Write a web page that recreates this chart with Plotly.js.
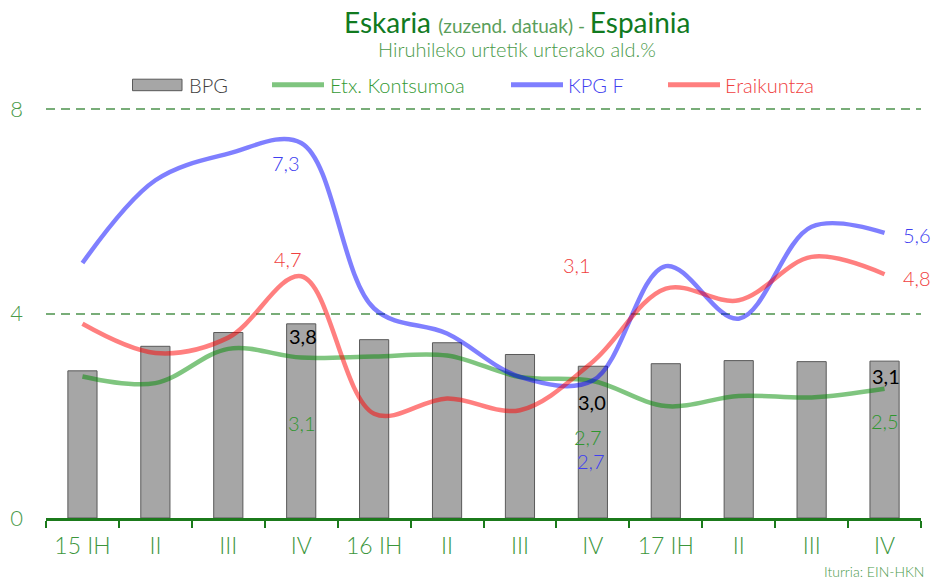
<!DOCTYPE html>
<html>
<head>
<meta charset="utf-8">
<script src="https://cdn.plot.ly/plotly-3.0.1.min.js"></script>
<style>
html,body{margin:0;padding:0;background:#fff;}
#chart{width:933px;height:581px;}
</style>
</head>
<body>
<div id="chart"></div>
<script>
// ---- Data ----
const categories = ["2015-I","2015-II","2015-III","2015-IV","2016-I","2016-II","2016-III","2016-IV","2017-I","2017-II","2017-III","2017-IV"];
const tickLabels = ["15 IH","II","III","IV","16 IH","II","III","IV","17 IH","II","III","IV"];
const bpg        = [2.88, 3.36, 3.63, 3.80, 3.49, 3.43, 3.20, 2.97, 3.02, 3.08, 3.06, 3.07];
const kontsumoa  = [2.77, 2.64, 3.31, 3.14, 3.16, 3.18, 2.76, 2.68, 2.19, 2.39, 2.36, 2.53];
const kpgF       = [4.99, 6.61, 7.13, 7.34, 4.10, 3.61, 2.76, 2.69, 4.93, 3.90, 5.70, 5.58];
const eraikuntza = [3.80, 3.23, 3.53, 4.73, 2.04, 2.34, 2.11, 3.06, 4.49, 4.26, 5.11, 4.77];
const seriesNames = ["BPG","Etx. Kontsumoa","KPG F","Eraikuntza"];
const labelIdx = [3, 7, 11]; // labelled quarters (IV)

// ---- Geometry helpers (layout only) ----
const L = 46, R = 12, T = 98.8, B = 63.3, W = 933, H = 581;
const pw = W - L - R, ph = H - T - B;
const px = x => (x - L) / pw;
const py = y => (H - B - y) / ph;

const FONT = "Lato, 'Noto Sans', sans-serif";
const WT = 300;
const cGreenTxt = "#339933", cBlueTxt = "#4040f0", cRedTxt = "#f04040";

const traces = [
  {type:"bar", x:categories, y:bpg, name:seriesNames[0], width:0.4,
   marker:{color:"#a6a6a6", line:{color:"#595959", width:1}}, showlegend:false, hoverinfo:"y"},
  {type:"scatter", mode:"lines", x:categories, y:kontsumoa, name:seriesNames[1],
   line:{color:"rgba(0,140,0,0.5)", width:4.5, shape:"spline", smoothing:1}, showlegend:false},
  {type:"scatter", mode:"lines", x:categories, y:kpgF, name:seriesNames[2],
   line:{color:"rgba(0,0,255,0.5)", width:4.5, shape:"spline", smoothing:1}, showlegend:false},
  {type:"scatter", mode:"lines", x:categories, y:eraikuntza, name:seriesNames[3],
   line:{color:"rgba(255,0,0,0.5)", width:4.5, shape:"spline", smoothing:1}, showlegend:false}
];

const fmt = v => v.toFixed(1).replace(".", ",");
const ann = [];
// data labels: [series array, color, weight, [xshift,yshift] per labelled point]
const labelSpecs = [
  [kpgF, cBlueTxt, WT, [[-15,-20],[-2,-80],[32,-2]]],
  [eraikuntza, cRedTxt, WT, [[-13,17],[-16,97],[32,-4]]],
  [bpg, "#000000", 400, [[2,-12],[-1,-36],[1,-15]]],
  [kontsumoa, "#2f962f", WT, [[1,-65],[-5,-56],[0,-32]]]
];
labelSpecs.forEach(([arr, col, wt, shifts]) => {
  labelIdx.forEach((i, k) => {
    ann.push({x:categories[i], y:arr[i], xref:"x", yref:"y", text:fmt(arr[i]),
      showarrow:false, xshift:shifts[k][0], yshift:shifts[k][1],
      font:{family:FONT, size:20, color:col, weight:wt}});
  });
});

// Title
ann.push({xref:"paper", yref:"paper", x:px(517), y:py(22), xanchor:"center", yanchor:"middle", showarrow:false,
  text:"Eskaria <span style='font-size:19px;color:#5a9e5a'>(zuzend. datuak)</span><span style='font-size:19px;color:#5a9e5a'> - </span>Espainia",
  font:{family:FONT, size:28, color:"#117a1f", weight:400}});
ann.push({xref:"paper", yref:"paper", x:px(517), y:py(49), xanchor:"center", yanchor:"middle", showarrow:false,
  text:"Hiruhileko urtetik urterako ald.%", font:{family:FONT, size:20, color:"#4a9a4a", weight:WT}});
// Source
ann.push({xref:"paper", yref:"paper", x:px(926), y:py(571), xanchor:"right", yanchor:"middle", showarrow:false,
  text:"Iturria: EIN-HKN", font:{family:FONT, size:14, color:"#4a9a4a", weight:WT}});

// Legend (manual)
const legY = 84.5;
const shapes = [];
shapes.push({type:"rect", xref:"paper", yref:"paper", x0:px(132.5), x1:px(182), y0:py(79), y1:py(90.5),
  fillcolor:"#a6a6a6", line:{color:"#595959", width:1}});
const legLines = [[272,324,"rgba(0,140,0,0.5)"],[511,563,"rgba(0,0,255,0.5)"],[668,720,"rgba(255,0,0,0.5)"]];
legLines.forEach(([a,b,c]) => shapes.push({type:"line", xref:"paper", yref:"paper", x0:px(a), x1:px(b), y0:py(legY), y1:py(legY),
  line:{color:c, width:5}}));
const legTexts = [[187, seriesNames[0], "#404040"],[328, seriesNames[1], cGreenTxt],[566, seriesNames[2], cBlueTxt],[723, seriesNames[3], cRedTxt]];
legTexts.forEach(([x,t,c]) => ann.push({xref:"paper", yref:"paper", x:px(x), y:py(legY), xanchor:"left", yanchor:"middle",
  showarrow:false, text:t, font:{family:FONT, size:20, color:c, weight:WT}}));

const layout = {
  width:W, height:H,
  margin:{l:L, r:R, t:T, b:B, pad:0},
  paper_bgcolor:"#ffffff", plot_bgcolor:"#ffffff",
  showlegend:false,
  font:{family:FONT},
  xaxis:{type:"category", tickmode:"array", tickvals:categories, ticktext:tickLabels,
    range:[-0.5, 11.5], tickson:"boundaries", ticks:"outside", ticklen:7, tickwidth:2, tickcolor:"#1b7a1b",
    showline:true, linecolor:"#1b7a1b", linewidth:2.5, showgrid:false, zeroline:false,
    tickfont:{family:FONT, size:23, color:"#3c963c", weight:WT}, ticklabelstandoff:6},
  yaxis:{range:[0,8.2], tickvals:[0,4,8], ticktext:["0","4","8"], showgrid:true, gridcolor:"#78ad78",
    griddash:"9px,6px", gridwidth:2, zeroline:false, showline:false, ticks:"",
    tickfont:{family:FONT, size:22, color:"#4a9a4a", weight:WT}, ticklabelstandoff:22},
  annotations:ann, shapes:shapes, bargap:0.6
};

Plotly.newPlot("chart", traces, layout, {displayModeBar:false, staticPlot:true});
</script>
</body>
</html>
